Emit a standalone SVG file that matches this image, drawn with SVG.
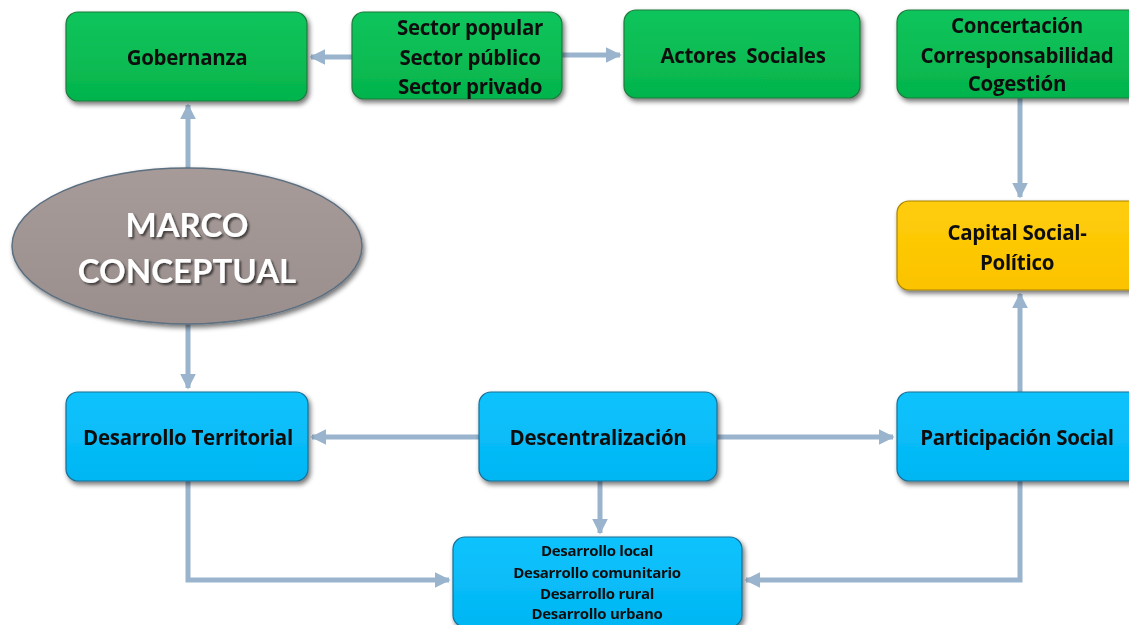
<svg xmlns="http://www.w3.org/2000/svg" width="1129" height="625" viewBox="0 0 1129 625">
<style>
.t{font-family:"Open Sans",Lato,"Liberation Sans",sans-serif;font-weight:bold;fill:#111;text-anchor:middle;dominant-baseline:central;font-variant-ligatures:none;letter-spacing:-0.3px}
.m{font-family:Lato,"Open Sans","Liberation Sans",sans-serif;font-weight:bold;fill:#fff;text-anchor:middle;dominant-baseline:central}
.g{fill:url(#gg);stroke:#1f7a3d;stroke-width:1.2}
.b{fill:url(#gb);stroke:#1a6f96;stroke-width:1.2}
.y{fill:url(#gy);stroke:#a98400;stroke-width:1.2}
.c{fill:none;stroke:#9ab4cd;stroke-width:5}
.n{filter:url(#sh)}
</style>
<defs>
<linearGradient id="gg" x1="0" y1="0" x2="0" y2="1"><stop offset="0" stop-color="#10c55c"/><stop offset="1" stop-color="#04b44c"/></linearGradient>
<linearGradient id="gb" x1="0" y1="0" x2="0" y2="1"><stop offset="0" stop-color="#10c3fd"/><stop offset="1" stop-color="#00b6f3"/></linearGradient>
<linearGradient id="gy" x1="0" y1="0" x2="0" y2="1"><stop offset="0" stop-color="#ffcd0a"/><stop offset="1" stop-color="#fbc300"/></linearGradient>
<linearGradient id="ge" x1="0" y1="0" x2="0" y2="1"><stop offset="0" stop-color="#a69b99"/><stop offset="1" stop-color="#9a8f8d"/></linearGradient>
<filter id="sh" x="-10%" y="-10%" width="125%" height="130%"><feGaussianBlur in="SourceAlpha" stdDeviation="2.5"/><feOffset dx="2" dy="3"/><feComponentTransfer><feFuncA type="linear" slope="0.55"/></feComponentTransfer><feMerge><feMergeNode/><feMergeNode in="SourceGraphic"/></feMerge></filter>
<filter id="ts" x="-10%" y="-20%" width="120%" height="150%"><feGaussianBlur in="SourceAlpha" stdDeviation="1.2"/><feOffset dx="1.5" dy="2"/><feComponentTransfer><feFuncA type="linear" slope="0.6"/></feComponentTransfer><feMerge><feMergeNode/><feMergeNode in="SourceGraphic"/></feMerge></filter>
<marker id="ah" viewBox="0 0 10 10" refX="9" refY="5" markerWidth="3.2" markerHeight="3.2" orient="auto" markerUnits="strokeWidth"><path d="M0,0 L10,5 L0,10 z" fill="#9ab4cd"/></marker>
</defs>
<g id="connectors">
<path class="c" d="M352,57 H311" marker-end="url(#ah)"/>
<path class="c" d="M562,55 H620" marker-end="url(#ah)"/>
<path class="c" d="M188,168 V105" marker-end="url(#ah)"/>
<path class="c" d="M188,323 V388" marker-end="url(#ah)"/>
<path class="c" d="M1020,98 V197" marker-end="url(#ah)"/>
<path class="c" d="M1020,392 V294" marker-end="url(#ah)"/>
<path class="c" d="M479,437 H312" marker-end="url(#ah)"/>
<path class="c" d="M717,437 H893" marker-end="url(#ah)"/>
<path class="c" d="M600,481 V533" marker-end="url(#ah)"/>
<path class="c" d="M188,481 V580 H449" marker-end="url(#ah)"/>
<path class="c" d="M1020,481 V580 H746" marker-end="url(#ah)"/>
</g>
<g id="gobernanza" class="n"><rect class="g" x="66" y="12" width="241" height="89" rx="12"/><text class="t" x="187" y="57" font-size="20.5">Gobernanza</text></g>
<g id="sectores" class="n"><rect class="g" x="352" y="12" width="210" height="87" rx="12"/><text class="t" font-size="20.5"><tspan x="470" y="27">Sector popular</tspan><tspan x="470" y="57">Sector público</tspan><tspan x="470" y="86">Sector privado</tspan></text></g>
<g id="actores" class="n"><rect class="g" x="624" y="10" width="236" height="88" rx="12"/><text class="t" x="743" y="55" font-size="20.5" xml:space="preserve">Actores  Sociales</text></g>
<g id="concertacion" class="n"><rect class="g" x="897" y="10" width="250" height="88" rx="12"/><text class="t" font-size="20.5"><tspan x="1017" y="25">Concertación</tspan><tspan x="1017" y="55">Corresponsabilidad</tspan><tspan x="1017" y="83">Cogestión</tspan></text></g>
<g id="capital" class="n"><rect class="y" x="897" y="201" width="250" height="89" rx="12"/><text class="t" font-size="20.5"><tspan x="1017" y="232">Capital Social-</tspan><tspan x="1017" y="262">Político</tspan></text></g>
<g id="marco" class="n"><ellipse cx="187" cy="246" rx="175" ry="78" fill="url(#ge)" stroke="#5d6f80" stroke-width="1.5"/><text class="m" font-size="33" filter="url(#ts)"><tspan x="187" y="224">MARCO</tspan><tspan x="187" y="270">CONCEPTUAL</tspan></text></g>
<g id="territorial" class="n"><rect class="b" x="66" y="392" width="242" height="89" rx="12"/><text class="t" x="188" y="437" font-size="20.5">Desarrollo Territorial</text></g>
<g id="descentralizacion" class="n"><rect class="b" x="479" y="392" width="238" height="89" rx="12"/><text class="t" x="598" y="437" font-size="20.5">Descentralización</text></g>
<g id="participacion" class="n"><rect class="b" x="897" y="392" width="250" height="89" rx="12"/><text class="t" x="1017" y="437" font-size="20.5">Participación Social</text></g>
<g id="desarrollos" class="n"><rect class="b" x="453" y="537" width="289" height="90" rx="12"/><text class="t" font-size="15"><tspan x="597" y="550">Desarrollo local</tspan><tspan x="597" y="572">Desarrollo comunitario</tspan><tspan x="597" y="593">Desarrollo rural</tspan><tspan x="597" y="613">Desarrollo urbano</tspan></text></g>
</svg>
